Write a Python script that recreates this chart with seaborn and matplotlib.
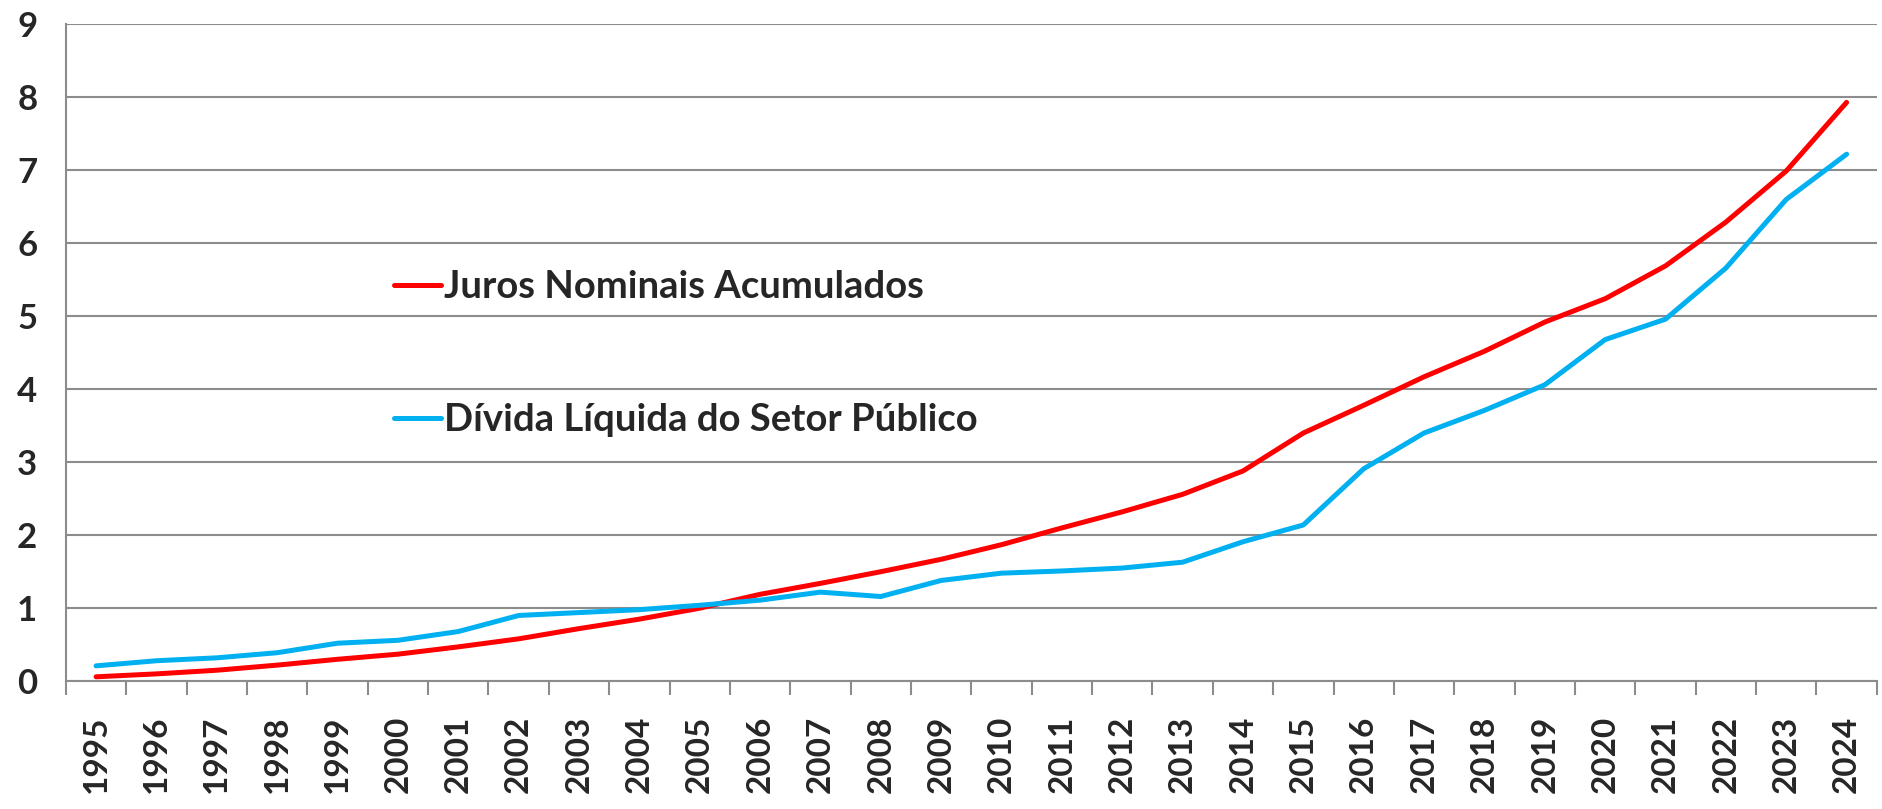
import numpy as np
import pandas as pd
import matplotlib
matplotlib.use("Agg")
import matplotlib.pyplot as plt
import seaborn as sns

# ── Dados ─────────────────────────────────────────────────────
anos = list(range(1995, 2025))
juros = [0.06, 0.10, 0.15, 0.22, 0.30, 0.37, 0.47, 0.58, 0.72, 0.85,
         1.00, 1.19, 1.34, 1.50, 1.67, 1.87, 2.10, 2.32, 2.56, 2.88,
         3.40, 3.78, 4.17, 4.52, 4.92, 5.24, 5.69, 6.29, 6.99, 7.93]
divida = [0.21, 0.28, 0.32, 0.39, 0.52, 0.56, 0.68, 0.90, 0.94, 0.98,
          1.04, 1.11, 1.22, 1.16, 1.38, 1.48, 1.51, 1.55, 1.63, 1.91,
          2.14, 2.91, 3.40, 3.71, 4.06, 4.68, 4.96, 5.66, 6.60, 7.22]
series = ["Juros Nominais Acumulados", "Dívida Líquida do Setor Público"]
cores = ["#FF0000", "#00B0F0"]

df = pd.DataFrame({
    "pos": list(range(len(anos))) * 2,
    "valor": juros + divida,
    "serie": [series[0]] * len(anos) + [series[1]] * len(anos),
})

sns.set_style("white")
plt.rcParams["font.family"] = ["Lato", "DejaVu Sans"]

fig = plt.figure(figsize=(18.83, 8.09), dpi=100)
ax = fig.add_axes([0.035, 0.158, 0.9617, 0.812])

sns.lineplot(data=df, x="pos", y="valor", hue="serie", palette=cores,
             linewidth=3.6, ax=ax, legend=True)

ax.set_xlim(-0.5, len(anos) - 0.5)
ax.set_ylim(0, 9)
ax.set_yticks(range(0, 10))
ax.set_xticks(range(len(anos)))
ax.set_xticklabels([str(a) for a in anos], rotation=90)
ax.set_xticks(np.arange(-0.5, len(anos), 1), minor=True)

# grade horizontal cinza, estilo Excel
ax.grid(axis="y", color="#8c8c8c", linewidth=1.5)
ax.set_axisbelow(True)
for s in ["top", "right"]:
    ax.spines[s].set_visible(False)
for s in ["left", "bottom"]:
    ax.spines[s].set_color("#8c8c8c")
    ax.spines[s].set_linewidth(1.5)

ax.tick_params(axis="y", which="major", length=8.6, width=1.5,
               color="#8c8c8c", pad=12, labelsize=25)
ax.tick_params(axis="x", which="major", length=0, pad=25, labelsize=24)
ax.tick_params(axis="x", which="minor", length=10, width=1.5,
               color="#8c8c8c", bottom=True)
for lbl in ax.get_xticklabels() + ax.get_yticklabels():
    lbl.set_fontweight("bold")

ax.set_xlabel("")
ax.set_ylabel("")

leg = ax.legend(loc="upper left", bbox_to_anchor=(0.181, 0.626),
                frameon=False, fontsize=27.5, labelspacing=2.6,
                handlelength=1.25, handletextpad=0.08,
                borderpad=0, borderaxespad=0)
for t in leg.get_texts():
    t.set_fontweight("bold")
for h in leg.get_lines():
    h.set_linewidth(3.6)

fig.savefig("out.png", dpi=100)
